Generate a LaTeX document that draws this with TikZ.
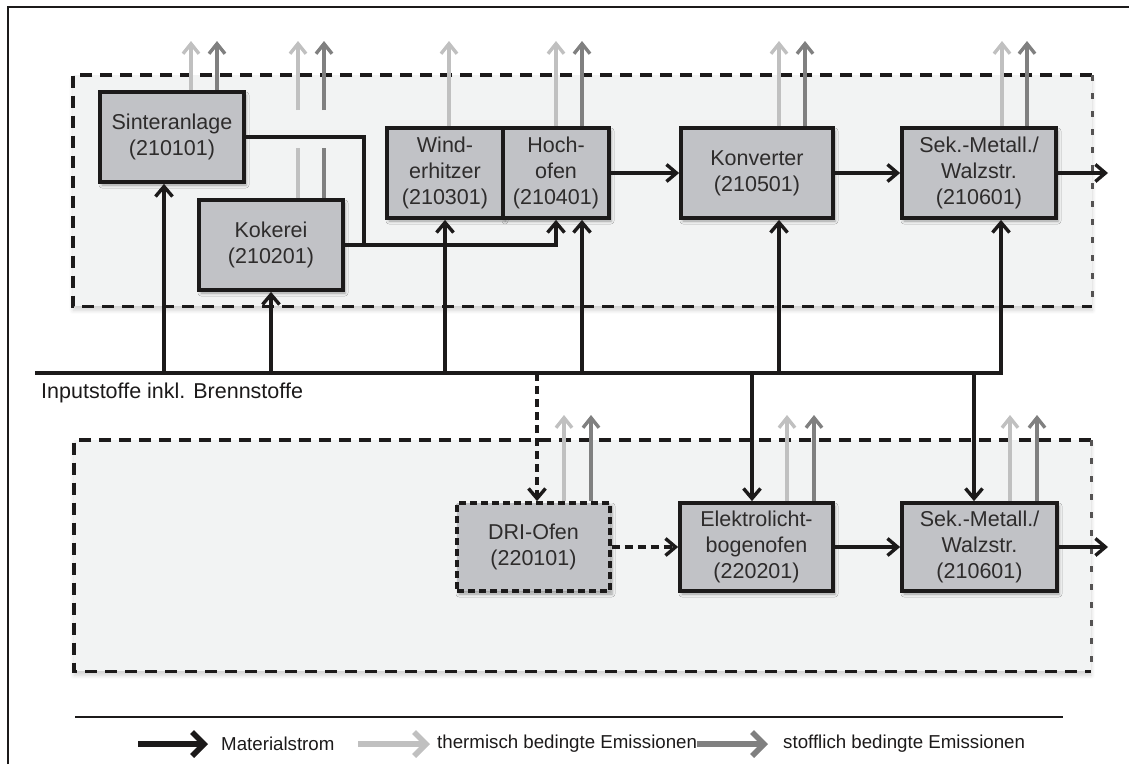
\documentclass[tikz,border=0pt]{standalone}
\usepackage{fontspec}
\setmainfont{Liberation Sans}
\usetikzlibrary{arrows.meta,shadows.blur}

\definecolor{boxfill}{RGB}{193,194,198}
\definecolor{grpfill}{RGB}{242,243,243}
\definecolor{emlight}{RGB}{192,192,192}
\definecolor{emdark}{RGB}{128,128,128}
\definecolor{ink}{RGB}{28,26,26}

\tikzset{
  proc/.style={draw=ink, line width=3.8pt, fill=boxfill, align=center,
    inner sep=0pt, text=ink!92,
    font=\fontsize{21.5}{26}\selectfont,
    blur shadow={shadow xshift=2pt, shadow yshift=-3pt,
      shadow blur radius=3pt, shadow opacity=35}},
  dproc/.style={proc, dash pattern=on 7pt off 4pt},
  grp/.style={fill=grpfill, inner sep=0pt,
    blur shadow={shadow xshift=0pt, shadow yshift=-4pt,
      shadow blur radius=4pt, shadow opacity=18}},
  grpedge/.style={draw=ink, line width=3.6pt, dash pattern=on 12pt off 8pt},
  grpside/.style={draw=ink!75, line width=2.5pt, dash pattern=on 6pt off 12pt},
  tipflow/.style={-{Straight Barb[length=10pt,width=17pt]}},
  link/.style={draw=ink, line width=3.4pt},
  flow/.style={link, tipflow},
  dflow/.style={flow, dash pattern=on 8pt off 5pt},
  bus/.style={draw=ink, line width=4.5pt, line cap=rect},
  emL/.style={draw=emlight, line width=3.4pt, -{Straight Barb[length=10pt,width=16pt]}},
  emD/.style={draw=emdark, line width=3.4pt, -{Straight Barb[length=10pt,width=16pt]}},
  emLline/.style={draw=emlight, line width=3.4pt},
  emDline/.style={draw=emdark, line width=3.4pt},
  legtxt/.style={anchor=west, inner sep=0pt, text=ink,
    font=\fontsize{18.7}{22}\selectfont},
  legarrow/.style={line width=5.5pt, -{Straight Barb[length=12pt,width=24pt]}},
}

\begin{document}
\begin{tikzpicture}[x=1pt, y=-1pt]
\useasboundingbox (0,0) rectangle (1129,764);

% outer frame
\draw[draw=ink, line width=1.8pt] (8,764) -- (8,7) -- (1129,7);

% process groups
\node[grp, anchor=north west, minimum width=1019pt, minimum height=231pt] (grpA) at (73,75) {};
\node[grp, anchor=north west, minimum width=1017pt, minimum height=231pt] (grpB) at (74,440) {};
\draw[grpedge] (grpA.north east) -- (grpA.north west) -- (grpA.south west) -- (grpA.south east);
\draw[grpside] (grpA.north east) -- (grpA.south east);
\draw[grpedge] (grpB.north east) -- (grpB.north west) -- (grpB.south west) -- (grpB.south east);
\draw[grpside] (grpB.north east) -- (grpB.south east);

% blast furnace route
\node[proc, minimum width=144pt, minimum height=90pt] (sinter) at (172,137) {Sinteranlage\\(210101)};
\node[proc, minimum width=144pt, minimum height=90pt] (koker) at (271,245) {Kokerei\\(210201)};
\node[proc, minimum width=116pt, minimum height=90pt] (wind) at (445,173) {Wind-\\erhitzer\\(210301)};
\node[proc, minimum width=106pt, minimum height=90pt] (hoch) at (556,173) {Hoch-\\ofen\\(210401)};
\node[proc, minimum width=152pt, minimum height=90pt] (konv) at (757,173) {Konverter\\(210501)};
\node[proc, minimum width=154pt, minimum height=90pt] (sek1) at (979,173) {Sek.-Metall./\\Walzstr.\\(210601)};

% electric steel route
\node[dproc, minimum width=153pt, minimum height=88pt] (dri) at (533.5,547) {DRI-Ofen\\(220101)};
\node[proc, minimum width=153pt, minimum height=88pt] (eaf) at (756.5,547) {Elektrolicht-\\bogenofen\\(220201)};
\node[proc, minimum width=155pt, minimum height=88pt] (sek2) at (979.5,547) {Sek.-Metall./\\Walzstr.\\(210601)};

% emission tips, upper row
\coordinate (tS1) at (191,41);  \coordinate (tS2) at (217,41);
\coordinate (tK1) at (298,41);  \coordinate (tK2) at (324,41);
\coordinate (tW1) at (449,41);
\coordinate (tH1) at (556,41);  \coordinate (tH2) at (582,41);
\coordinate (tV1) at (779,41);  \coordinate (tV2) at (805,41);
\coordinate (tM1) at (1002,41); \coordinate (tM2) at (1027,41);
% emission tips, lower row
\coordinate (tD1) at (564,415);  \coordinate (tD2) at (591,415);
\coordinate (tE1) at (787,415);  \coordinate (tE2) at (814,415);
\coordinate (tN1) at (1010,415); \coordinate (tN2) at (1037,415);
% break in the coke-oven emission lines
\coordinate (kU1) at (298,110); \coordinate (kU2) at (324,110);
\coordinate (kL1) at (298,148); \coordinate (kL2) at (324,148);

\draw[emL] (sinter.north -| tS1) -- (tS1);
\draw[emD] (sinter.north -| tS2) -- (tS2);
\draw[emLline] (koker.north -| kL1) -- (kL1);
\draw[emDline] (koker.north -| kL2) -- (kL2);
\draw[emL] (kU1) -- (tK1);
\draw[emD] (kU2) -- (tK2);
\draw[emL] (wind.north -| tW1) -- (tW1);
\draw[emL] (hoch.north -| tH1) -- (tH1);
\draw[emD] (hoch.north -| tH2) -- (tH2);
\draw[emL] (konv.north -| tV1) -- (tV1);
\draw[emD] (konv.north -| tV2) -- (tV2);
\draw[emL] (sek1.north -| tM1) -- (tM1);
\draw[emD] (sek1.north -| tM2) -- (tM2);
\draw[emL] (dri.north -| tD1) -- (tD1);
\draw[emD] (dri.north -| tD2) -- (tD2);
\draw[emL] (eaf.north -| tE1) -- (tE1);
\draw[emD] (eaf.north -| tE2) -- (tE2);
\draw[emL] (sek2.north -| tN1) -- (tN1);
\draw[emD] (sek2.north -| tN2) -- (tN2);

% material flows, upper route
\coordinate (jn) at (364,245);
\draw[link] (sinter.east) -| (jn);
\draw[flow] (koker.east) -| (hoch.south);
\coordinate (out1) at (1108,173);
\draw[flow] (hoch.east) -- (konv.west);
\draw[flow] (konv.east) -- (sek1.west);
\draw[flow] (sek1.east) -- (out1);

% material flows, lower route
\coordinate (out2) at (1108,547);
\draw[dflow] (dri.east) -- (eaf.west);
\draw[flow] (eaf.east) -- (sek2.west);
\draw[flow] (sek2.east) -- (out2);

% input bus
\coordinate (busL) at (37,373);
\coordinate (busR) at (1001,373);
\coordinate (b1) at (164,373);
\coordinate (b2) at (271,373);
\coordinate (b3) at (445,373);
\coordinate (b4) at (582,373);
\coordinate (b5) at (779,373);
\coordinate (b7) at (752,373);
\coordinate (b8) at (974,373);
\coordinate (b9) at (537,373);
\draw[bus] (busL) -- (busR);
\node[anchor=west, inner sep=0pt, text=ink, font=\fontsize{21.5}{26}\selectfont] (inlab) at (41,393) {Inputstoffe inkl. Brennstoffe};
\draw[flow] (b1) -- (sinter.south -| b1);
\draw[flow] (b2) -- (koker.south -| b2);
\draw[flow] (b3) -- (wind.south -| b3);
\draw[flow] (b4) -- (hoch.south -| b4);
\draw[flow] (b5) -- (konv.south -| b5);
\draw[flow] (busR) -- (sek1.south -| busR);
\draw[flow] (b7) -- (eaf.north -| b7);
\draw[flow] (b8) -- (sek2.north -| b8);
\draw[dflow] (b9) -- (dri.north -| b9);

% legend
\coordinate (legL) at (75,717);
\coordinate (legR) at (1063,717);
\draw[draw=ink, line width=2.8pt] (legL) -- (legR);
\coordinate (la1) at (138,744); \coordinate (la2) at (208,744);
\coordinate (lb1) at (358,744); \coordinate (lb2) at (430,744);
\coordinate (lc1) at (697,744); \coordinate (lc2) at (768,744);
\draw[legarrow, draw=ink] (la1) -- (la2);
\draw[legarrow, draw=emlight] (lb1) -- (lb2);
\draw[legarrow, draw=emdark] (lc1) -- (lc2);
\node[legtxt] (lt1) at (221,744) {Materialstrom};
\node[legtxt] (lt2) at (437,744) {thermisch bedingte Emissionen};
\node[legtxt] (lt3) at (783,744) {stofflich bedingte Emissionen};
\end{tikzpicture}
\end{document}
